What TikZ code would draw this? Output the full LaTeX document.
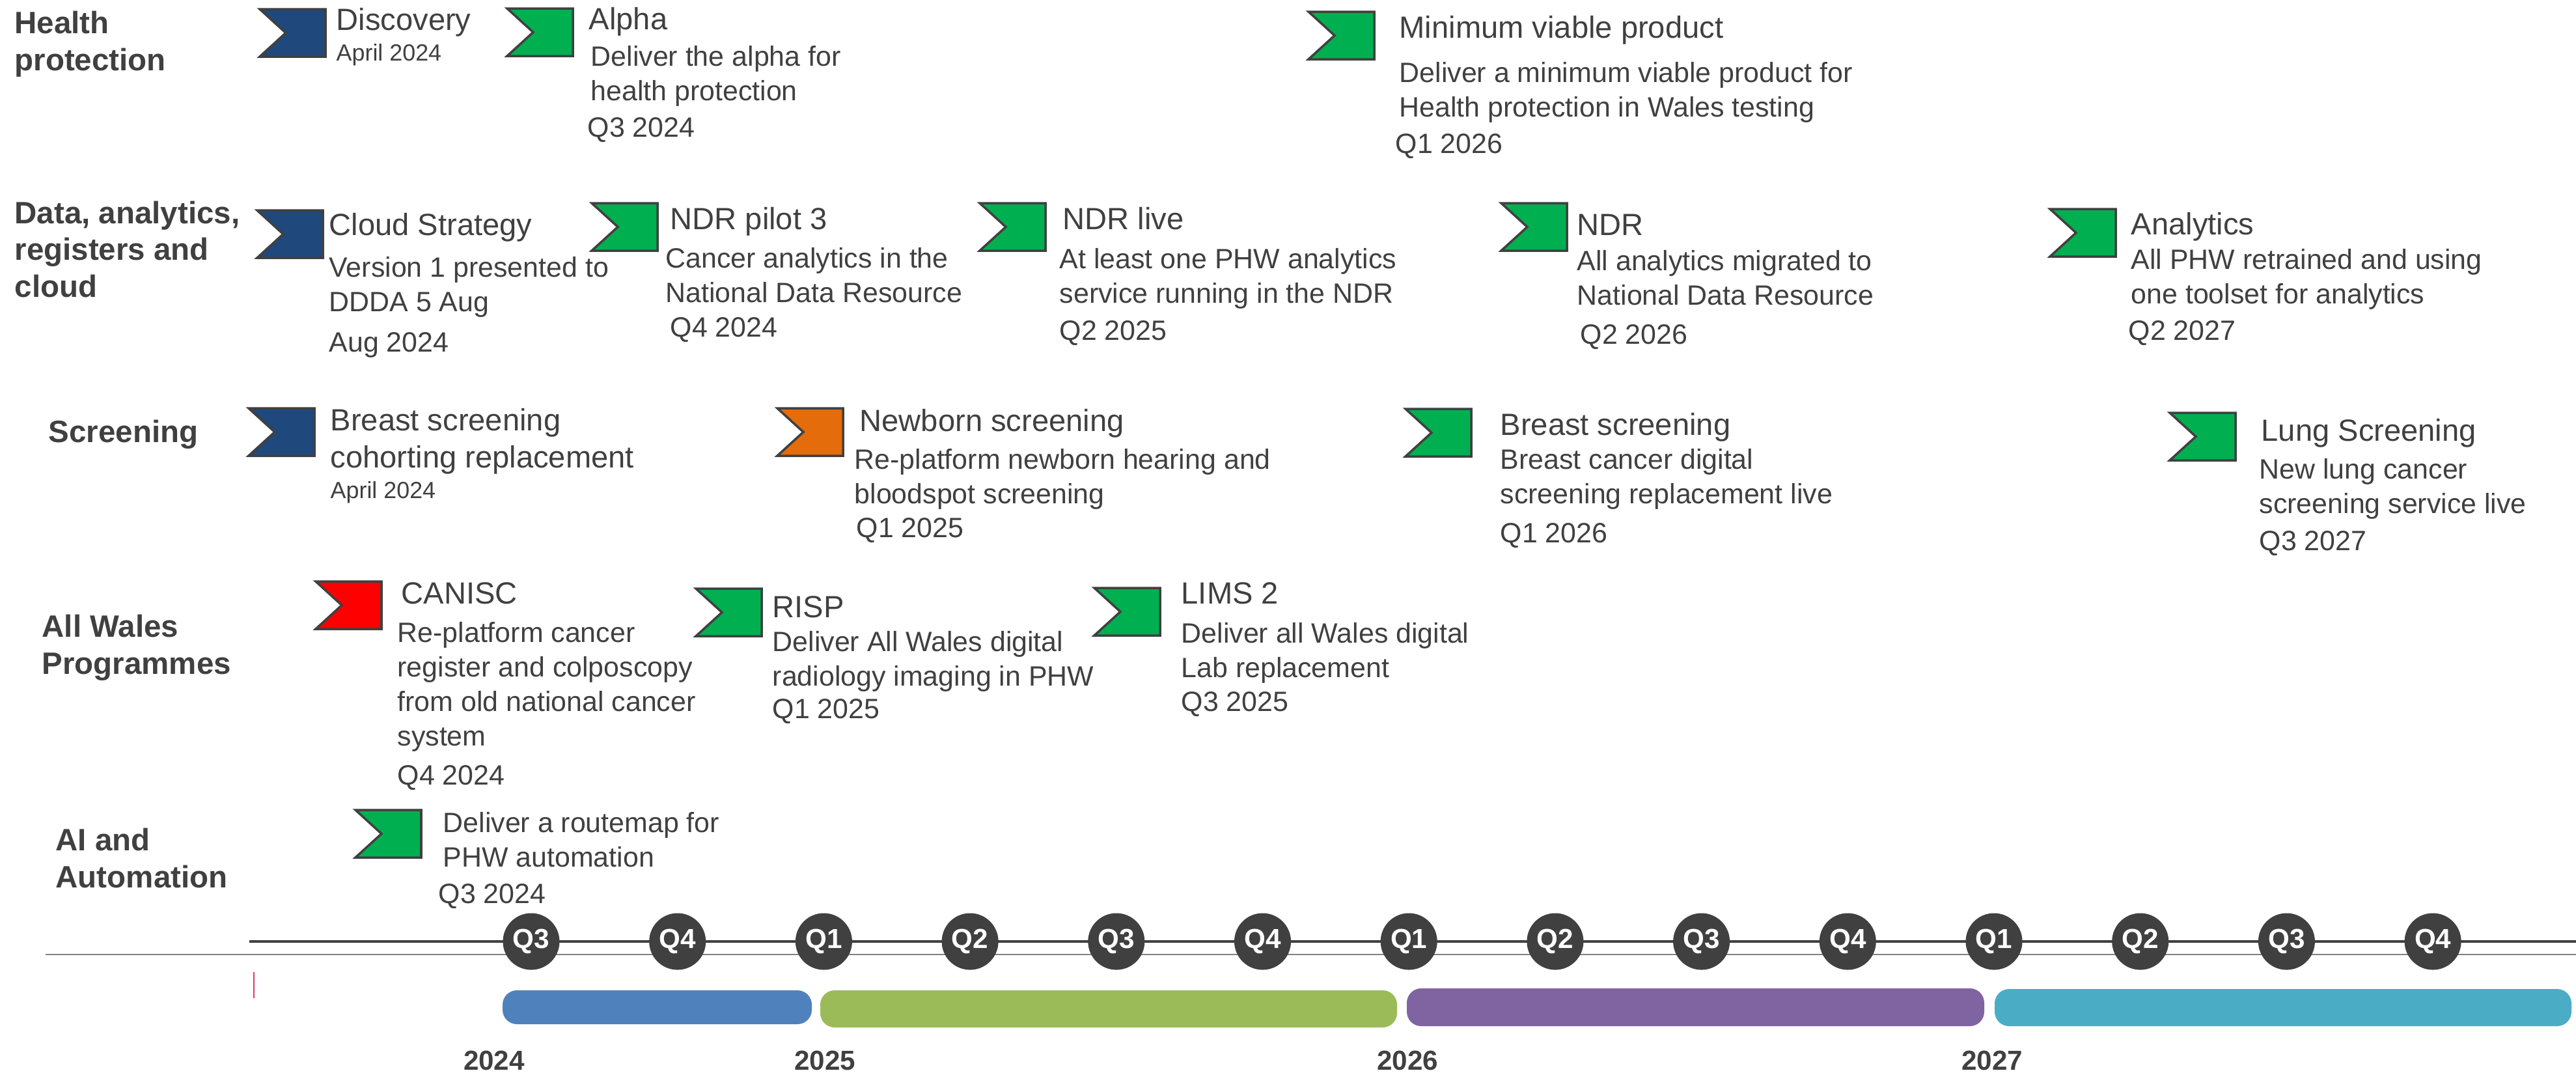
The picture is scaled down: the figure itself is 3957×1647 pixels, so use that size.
\documentclass[tikz,border=0pt]{standalone}
\usepackage{fontspec}
\setmainfont{Liberation Sans}
\usepackage{tikz}

\definecolor{txt}{HTML}{404040}
\definecolor{navy}{HTML}{1F497D}
\definecolor{msgreen}{HTML}{00B050}
\definecolor{msorange}{HTML}{E46C0A}
\definecolor{msred}{HTML}{FF0000}
\definecolor{bartwentyfour}{HTML}{4F81BD}
\definecolor{bartwentyfive}{HTML}{9BBB59}
\definecolor{bartwentysix}{HTML}{8064A2}
\definecolor{bartwentyseven}{HTML}{4BACC6}
\definecolor{tickpink}{HTML}{E8336B}

\tikzset{
	pics/flag/.style={code={
		\draw[line width=1pt,draw=txt,fill=#1] (0,0) -- (101,0) -- (101,73) -- (0,73) -- (40,36.5) -- cycle;
	}}
}

\begin{document}
\begin{tikzpicture}[x=0.01cm,y=-0.01cm,
	rowlabel/.style={anchor=base west,align=left,inner sep=0,text=txt,font=\bfseries\fontsize{13.5}{16}\selectfont},
	mtitle/.style={anchor=base west,align=left,inner sep=0,text=txt,font=\fontsize{13.4}{16.2}\selectfont},
	mdesc/.style={anchor=base west,align=left,inner sep=0,text=txt,font=\fontsize{12.2}{15}\selectfont},
	smalldate/.style={anchor=base west,inner sep=0,text=txt,font=\fontsize{10.2}{12}\selectfont},
	qmark/.style={circle,fill=txt,text=white,inner sep=0,minimum size=0.87cm,font=\bfseries\fontsize{12}{12}\selectfont},
	yearlabel/.style={anchor=base,inner sep=0,text=txt,font=\bfseries\fontsize{12}{12}\selectfont}]
	
	\useasboundingbox (0,0) rectangle (3957,1647);
	
	% multi-line nodes sit on the baseline of their last line
	\node[rowlabel] (hp) at (22,108) {Health\\protection};
	\node[rowlabel] (dar) at (22,456) {Data, analytics,\\registers and\\cloud};
	\node[rowlabel] (scr) at (74,679) {Screening};
	\node[rowlabel] (awp) at (64,1035) {All Wales\\Programmes};
	\node[rowlabel] (aia) at (85,1363) {AI and\\Automation};
	
	% health protection
	\pic at (399,14) {flag=navy};
	\node[mtitle] (disc) at (516,46) {Discovery};
	\node[smalldate] (discd) at (516,93) {April 2024};
	
	\pic at (779,13) {flag=msgreen};
	\node[mtitle] (alpha) at (904,45) {Alpha};
	\node[mdesc] (alphat) at (907,154) {Deliver the alpha for\\health protection};
	\node[mdesc] (alphad) at (902,210) {Q3 2024};
	
	\pic at (2010,18) {flag=msgreen};
	\node[mtitle] (mvp) at (2149,58) {Minimum viable product};
	\node[mdesc] (mvpt) at (2149,179) {Deliver a minimum viable product for\\Health protection in Wales testing};
	\node[mdesc] (mvpd) at (2143,235) {Q1 2026};
	
	% data, analytics, registers and cloud
	\pic at (395,323) {flag=navy};
	\node[mtitle] (cloud) at (505,361) {Cloud Strategy};
	\node[mdesc] (cloudt) at (505,478) {Version 1 presented to\\DDDA 5 Aug};
	\node[mdesc] (cloudd) at (505,540) {Aug 2024};
	
	\pic at (909,312) {flag=msgreen};
	\node[mtitle] (pilot) at (1029,352) {NDR pilot 3};
	\node[mdesc] (pilott) at (1022,464) {Cancer analytics in the\\National Data Resource};
	\node[mdesc] (pilotd) at (1029,517) {Q4 2024};
	
	\pic at (1505,312) {flag=msgreen};
	\node[mtitle] (live) at (1632,352) {NDR live};
	\node[mdesc] (livet) at (1627,465) {At least one PHW analytics\\service running in the NDR};
	\node[mdesc] (lived) at (1627,522) {Q2 2025};
	
	\pic at (2306,312) {flag=msgreen};
	\node[mtitle] (ndr) at (2422,361) {NDR};
	\node[mdesc] (ndrt) at (2422,468) {All analytics migrated to\\National Data Resource};
	\node[mdesc] (ndrd) at (2427,528) {Q2 2026};
	
	\pic at (3149,321) {flag=msgreen};
	\node[mtitle] (anl) at (3273,360) {Analytics};
	\node[mdesc] (anlt) at (3273,466) {All PHW retrained and using\\one toolset for analytics};
	\node[mdesc] (anld) at (3269,522) {Q2 2027};
	
	% screening
	\pic at (382,627) {flag=navy};
	\node[mtitle] (bsc) at (507,718) {Breast screening\\cohorting replacement};
	\node[smalldate] (bscd) at (507,765) {April 2024};
	
	\pic at (1194,627) {flag=msorange};
	\node[mtitle] (nbs) at (1320,662) {Newborn screening};
	\node[mdesc] (nbst) at (1312,773) {Re-platform newborn hearing and\\bloodspot screening};
	\node[mdesc] (nbsd) at (1315,825) {Q1 2025};
	
	\pic at (2159,628) {flag=msgreen};
	\node[mtitle] (bsl) at (2304,668) {Breast screening};
	\node[mdesc] (bslt) at (2304,773) {Breast cancer digital\\screening replacement live};
	\node[mdesc] (bsld) at (2304,833) {Q1 2026};
	
	\pic at (3333,634) {flag=msgreen};
	\node[mtitle] (lung) at (3473,677) {Lung Screening};
	\node[mdesc] (lungt) at (3470,788) {New lung cancer\\screening service live};
	\node[mdesc] (lungd) at (3470,845) {Q3 2027};
	
	% all wales programmes
	\pic at (485,893) {flag=msred};
	\node[mtitle] (canisc) at (616,927) {CANISC};
	\node[mdesc] (canisct) at (610,1145) {Re-platform cancer\\register and colposcopy\\from old national cancer\\system};
	\node[mdesc] (caniscd) at (610,1205) {Q4 2024};
	
	\pic at (1069,904) {flag=msgreen};
	\node[mtitle] (risp) at (1186,948) {RISP};
	\node[mdesc] (rispt) at (1186,1053) {Deliver All Wales digital\\radiology imaging in PHW};
	\node[mdesc] (rispd) at (1186,1103) {Q1 2025};
	
	\pic at (1681,903) {flag=msgreen};
	\node[mtitle] (lims) at (1814,927) {LIMS 2};
	\node[mdesc] (limst) at (1814,1040) {Deliver all Wales digital\\Lab replacement};
	\node[mdesc] (limsd) at (1814,1092) {Q3 2025};
	
	% ai and automation
	\pic at (546,1244) {flag=msgreen};
	\node[mdesc] (route) at (680,1331) {Deliver a routemap for\\PHW automation};
	\node[mdesc] (routed) at (673,1387) {Q3 2024};
	
	% timeline
	\draw[line width=0.9pt,draw=txt] (383,1446) -- (3957,1446);
	\draw[line width=0.6pt,draw=gray] (70,1466) -- (3957,1466);
	\draw[line width=0.5pt,draw=tickpink] (390,1493) -- (390,1533);
	
	\foreach \q [count=\i from 0] in {3,4,1,2,3,4,1,2,3,4,1,2,3,4}
		\node[qmark] (q\i) at (816+224.7*\i,1446) {Q\q};
	
	\fill[bartwentyfour,rounded corners=0.22cm] (772,1521) rectangle (1247,1573);
	\fill[bartwentyfive,rounded corners=0.22cm] (1260,1521) rectangle (2146,1578);
	\fill[bartwentysix,rounded corners=0.22cm] (2161,1518) rectangle (3048,1576);
	\fill[bartwentyseven,rounded corners=0.22cm] (3064,1519) rectangle (3950,1576);
	
	\node[yearlabel] (y24) at (759,1643) {2024};
	\node[yearlabel] (y25) at (1267,1643) {2025};
	\node[yearlabel] (y26) at (2162,1643) {2026};
	\node[yearlabel] (y27) at (3060,1643) {2027};
	
\end{tikzpicture}
\end{document}
